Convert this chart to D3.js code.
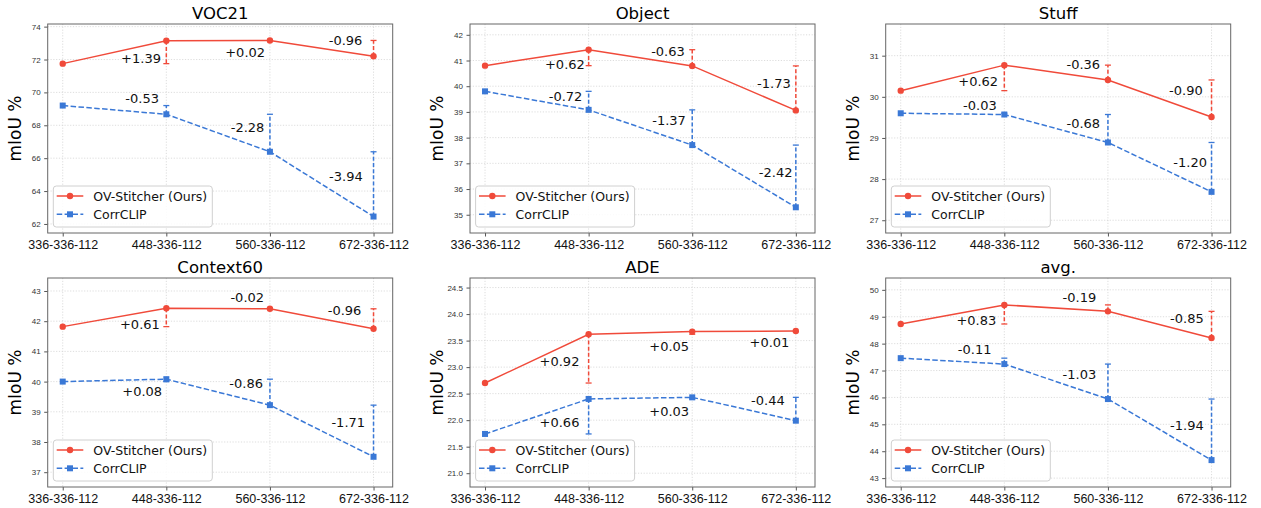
<!DOCTYPE html>
<html>
<head>
<meta charset="utf-8">
<script src="https://cdn.jsdelivr.net/npm/d3@7"></script>
<style>
  body { margin: 0; background: #fff; }
  svg { font-family: "DejaVu Sans", sans-serif; }
</style>
</head>
<body>
<script>
// Resolution configs on the x axis
const configs = ["336-336-112", "448-336-112", "560-336-112", "672-336-112"];
const titles = ["VOC21", "Object", "Stuff", "Context60", "ADE", "avg."];
const seriesNames = ["OV-Stitcher (Ours)", "CorrCLIP"];

// mIoU per panel
const oursScores = [
    [71.75, 73.14, 73.16, 72.20],
    [40.80, 41.42, 40.79, 39.06],
    [30.15, 30.77, 30.41, 29.51],
    [41.82, 42.43, 42.41, 41.75],
    [22.70, 23.62, 23.67, 23.68],
    [48.73, 49.44, 49.20, 48.21]
];
const corrScores = [
    [69.20, 68.67, 66.39, 62.45],
    [39.80, 39.08, 37.71, 35.29],
    [29.60, 29.57, 28.89, 27.69],
    [40.00, 40.08, 39.22, 37.51],
    [21.74, 22.40, 22.43, 21.99],
    [47.46, 47.24, 45.94, 43.67]
];

// change labels (configs 2..4)
const oursDeltas = [
    ["+1.39", "+0.02", "-0.96"],
    ["+0.62", "-0.63", "-1.73"],
    ["+0.62", "-0.36", "-0.90"],
    ["+0.61", "-0.02", "-0.96"],
    ["+0.92", "+0.05", "+0.01"],
    ["+0.83", "-0.19", "-0.85"]
];
const corrDeltas = [
    ["-0.53", "-2.28", "-3.94"],
    ["-0.72", "-1.37", "-2.42"],
    ["-0.03", "-0.68", "-1.20"],
    ["+0.08", "-0.86", "-1.71"],
    ["+0.66", "+0.03", "-0.44"],
    ["-0.11", "-1.03", "-1.94"]
];

// where each change label sits, in data coordinates [config index, mIoU]
const oursLabelAt = [
    [[0.756, 72.05], [1.761, 72.46], [2.730, 73.19]],
    [[0.771, 40.85], [1.766, 41.37], [2.788, 40.10]],
    [[0.748, 30.37], [1.762, 30.79], [2.753, 30.17]],
    [[0.745, 41.91], [1.781, 42.78], [2.720, 42.37]],
    [[0.719, 23.10], [1.778, 23.40], [2.745, 23.46]],
    [[0.730, 48.85], [1.725, 49.72], [2.762, 48.95]]
];
const corrLabelAt = [
    [[0.767, 69.65], [1.784, 67.89], [2.733, 64.90]],
    [[0.777, 39.62], [1.776, 38.68], [2.805, 36.65]],
    [[0.764, 29.80], [1.762, 29.36], [2.794, 28.41]],
    [[0.767, 39.68], [1.771, 39.95], [2.756, 38.65]],
    [[0.719, 21.96], [1.778, 22.16], [2.730, 22.37]],
    [[0.714, 47.77], [1.725, 46.85], [2.762, 44.97]]
];

const red = "#f04a3a";
const blue = "#3a78d6";

const colLeft = [47.7, 470, 885.7];
const rowTop = [24, 278];
const pw = 345, ph = 209;

const svg = d3.select("body")
    .append("svg")
    .attr("width", 1261)
    .attr("height", 508);

titles.forEach(function (title, k) {
    const left = colLeft[k % 3];
    const top = rowTop[Math.floor(k / 3)];
    const ours = oursScores[k];
    const corr = corrScores[k];

    const g = svg.append("g")
        .attr("transform", "translate(" + left + "," + top + ")");

    const x = d3.scaleLinear().domain([-0.145, 3.185]).range([0, pw]);
    const all = ours.concat(corr);
    const y = d3.scaleLinear()
        .domain([d3.min(all) - 1, d3.max(all) + 1])
        .range([ph, 0]);
    const yTicks = y.ticks(7);

    // grid
    g.append("g").selectAll("line.gy")
        .data(yTicks).enter().append("line")
        .attr("x1", 0).attr("x2", pw)
        .attr("y1", d => y(d)).attr("y2", d => y(d))
        .attr("stroke", "#d4d4d4").attr("stroke-width", 0.8)
        .attr("stroke-dasharray", "1.2,1.6");
    g.append("g").selectAll("line.gx")
        .data(d3.range(configs.length)).enter().append("line")
        .attr("x1", d => x(d)).attr("x2", d => x(d))
        .attr("y1", 0).attr("y2", ph)
        .attr("stroke", "#d4d4d4").attr("stroke-width", 0.8)
        .attr("stroke-dasharray", "1.2,1.6");

    // axes
    const xAxis = d3.axisBottom(x)
        .tickValues(d3.range(configs.length))
        .tickFormat(i => configs[i])
        .tickSize(3.5).tickPadding(3.5);
    const gx = g.append("g")
        .attr("transform", "translate(0," + ph + ")")
        .call(xAxis);
    gx.select(".domain").remove();
    gx.selectAll("line").attr("stroke", "#555");
    gx.selectAll("text").attr("font-size", 12.5).attr("fill", "#111");

    const yAxis = d3.axisLeft(y)
        .tickValues(yTicks)
        .tickFormat(y.tickFormat(7))
        .tickSize(3.5).tickPadding(3.5);
    const gy = g.append("g").call(yAxis);
    gy.select(".domain").remove();
    gy.selectAll("line").attr("stroke", "#555");
    gy.selectAll("text").attr("font-size", 8).attr("fill", "#333");

    // frame
    g.append("rect")
        .attr("width", pw).attr("height", ph)
        .attr("fill", "none").attr("stroke", "#666").attr("stroke-width", 1);

    // title and y label
    g.append("text")
        .attr("x", pw / 2).attr("y", -4.7)
        .attr("text-anchor", "middle")
        .attr("font-size", 16.5)
        .text(title);
    g.append("text")
        .attr("transform", "translate(-32.5," + (ph / 2) + ") rotate(-90)")
        .attr("text-anchor", "middle")
        .attr("dy", "0.35em")
        .attr("font-size", 17)
        .text("mIoU %");

    const series = [
        { vals: ours, color: red, dash: null, deltas: oursDeltas[k], at: oursLabelAt[k], marker: "circle" },
        { vals: corr, color: blue, dash: "5.5,2.4", deltas: corrDeltas[k], at: corrLabelAt[k], marker: "square" }
    ];

    series.forEach(function (s) {
        // change bars: from the previous config value to the current one
        const bars = d3.range(1, s.vals.length).map(i => ({ i: i, from: s.vals[i - 1], to: s.vals[i] }));
        g.append("g").selectAll("line")
            .data(bars).enter().append("line")
            .attr("x1", d => x(d.i)).attr("x2", d => x(d.i))
            .attr("y1", d => y(d.to)).attr("y2", d => y(d.from))
            .attr("stroke", s.color).attr("stroke-width", 1.5)
            .attr("stroke-dasharray", "4,2.2");
        g.append("g").selectAll("line")
            .data(bars).enter().append("line")
            .attr("x1", d => x(d.i) - 3).attr("x2", d => x(d.i) + 3)
            .attr("y1", d => y(d.from)).attr("y2", d => y(d.from))
            .attr("stroke", s.color).attr("stroke-width", 1.3);

        const line = d3.line()
            .x((d, i) => x(i))
            .y(d => y(d));
        g.append("path")
            .datum(s.vals)
            .attr("d", line)
            .attr("fill", "none")
            .attr("stroke", s.color)
            .attr("stroke-width", 1.5)
            .attr("stroke-dasharray", s.dash);

        if (s.marker === "circle") {
            g.append("g").selectAll("circle")
                .data(s.vals).enter().append("circle")
                .attr("cx", (d, i) => x(i)).attr("cy", d => y(d))
                .attr("r", 3.2).attr("fill", s.color);
        } else {
            g.append("g").selectAll("rect")
                .data(s.vals).enter().append("rect")
                .attr("x", (d, i) => x(i) - 3).attr("y", d => y(d) - 3)
                .attr("width", 6).attr("height", 6).attr("fill", s.color);
        }

        // change labels
        g.append("g").selectAll("text")
            .data(s.deltas).enter().append("text")
            .attr("x", (d, i) => x(s.at[i][0]))
            .attr("y", (d, i) => y(s.at[i][1]))
            .attr("dy", "0.36em")
            .attr("text-anchor", "middle")
            .attr("font-size", 13)
            .attr("fill", "#111")
            .text(d => d);
    });

    // legend
    const lg = g.append("g")
        .attr("transform", "translate(5.6," + (ph - 47) + ")");
    lg.append("rect")
        .attr("width", 159).attr("height", 41).attr("rx", 3)
        .attr("fill", "#fff").attr("fill-opacity", 0.85)
        .attr("stroke", "#d0d0d0").attr("stroke-width", 1);
    series.forEach(function (s, j) {
        const cy = 10 + j * 18.3;
        lg.append("line")
            .attr("x1", 3.4).attr("x2", 30)
            .attr("y1", cy).attr("y2", cy)
            .attr("stroke", s.color).attr("stroke-width", 1.5)
            .attr("stroke-dasharray", s.dash);
        if (s.marker === "circle") {
            lg.append("circle").attr("cx", 16.7).attr("cy", cy).attr("r", 3.2).attr("fill", s.color);
        } else {
            lg.append("rect").attr("x", 13.7).attr("y", cy - 3).attr("width", 6).attr("height", 6).attr("fill", s.color);
        }
        lg.append("text")
            .attr("x", 40).attr("y", cy)
            .attr("dy", "0.36em")
            .attr("font-size", 12.5)
            .attr("fill", "#111")
            .text(seriesNames[j]);
    });
});
</script>
</body>
</html>
